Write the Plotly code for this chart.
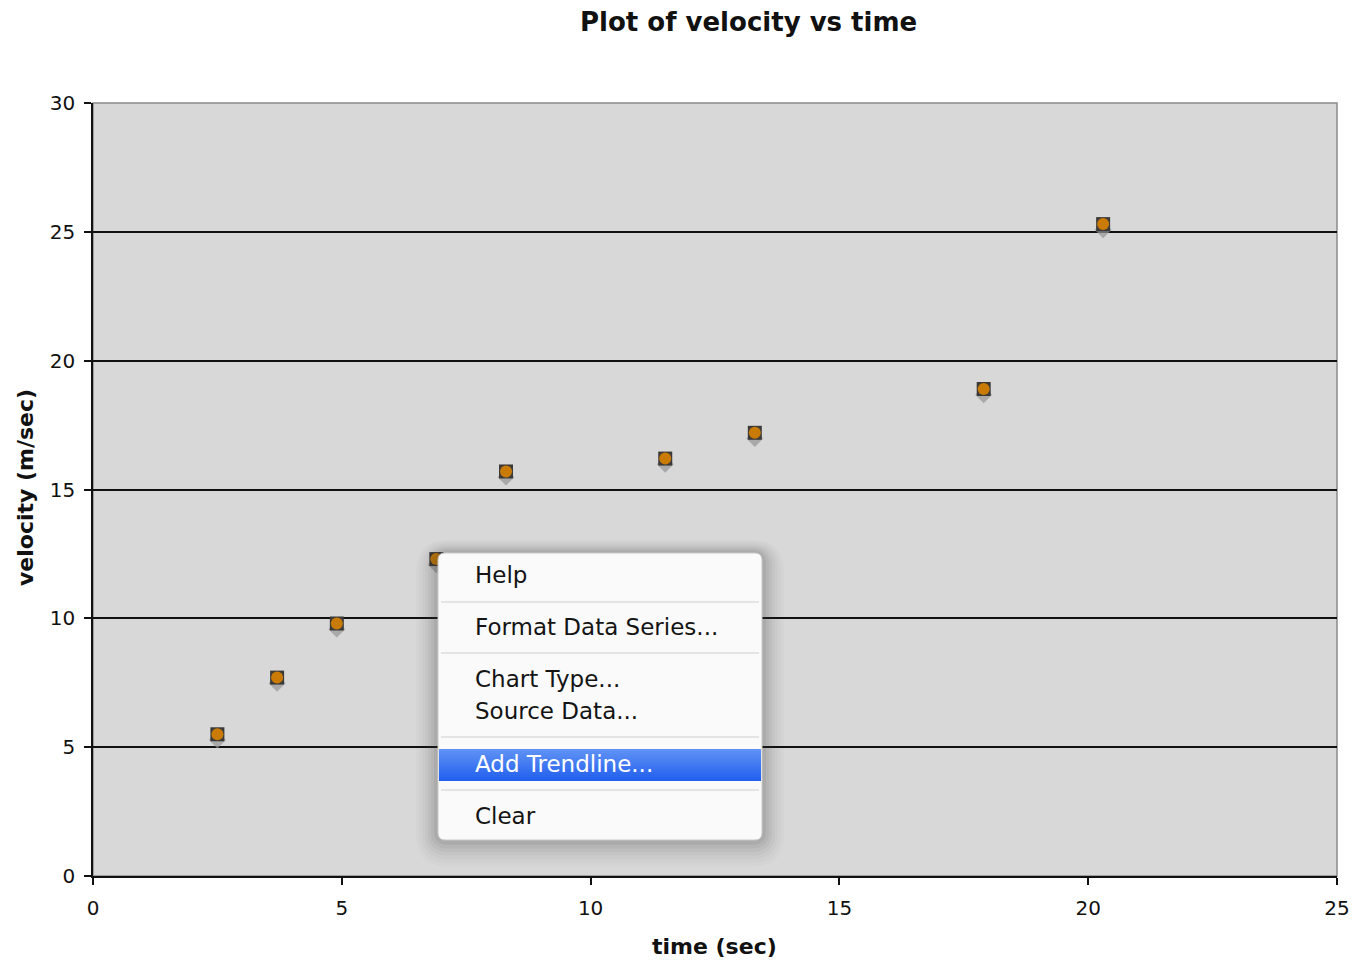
import plotly.graph_objects as go

# Measured data
time_sec = [2.5, 3.7, 4.9, 6.9, 8.3, 11.5, 13.3, 17.9, 20.3]
velocity = [5.5, 7.7, 9.8, 12.3, 15.7, 16.2, 17.2, 18.9, 25.3]

x_ticks = [0, 5, 10, 15, 20, 25]
y_ticks = [0, 5, 10, 15, 20, 25, 30]

menu_items = ["Help", "Format Data Series...", "Chart Type...", "Source Data...",
              "Add Trendline...", "Clear"]
menu_selected = "Add Trendline..."

W, H = 1355, 961
L, R, T, B = 93, 18, 103, 85
PW, PH = W - L - R, H - T - B


def px(x):
    return (x - L) / PW


def py(y):
    return (H - B - y) / PH


fig = go.Figure()

# soft drop shadow under each marker
shadow_y = [v - 0.22 for v in velocity]
fig.add_trace(go.Scatter(
    x=time_sec, y=shadow_y, mode="markers", hoverinfo="skip",
    marker=dict(symbol="diamond", size=13, color="rgba(150,150,150,0.7)", line=dict(width=0)),
))
fig.add_trace(go.Scatter(
    x=time_sec, y=velocity, mode="markers",
    marker=dict(symbol="square", size=14, color="#3c3a38", line=dict(width=0)),
))
fig.add_trace(go.Scatter(
    x=time_sec, y=velocity, mode="markers", hoverinfo="skip",
    marker=dict(symbol="circle", size=12, color="#c97b06", line=dict(width=0)),
))

shapes = []
# plot frame (top and right edges in grey)
shapes.append(dict(type="rect", xref="paper", yref="paper", x0=0, x1=1, y0=0, y1=1,
                   line=dict(color="#8a8a8a", width=1.5), layer="below"))


def rounded(x0, y0, x1, y1, r):
    # pixel coords -> rounded rectangle path in paper coords
    rx, ry = r / PW, r / PH
    a0, a1 = px(x0), px(x1)
    b0, b1 = py(y1), py(y0)  # bottom, top
    return (f"M {a0+rx},{b1} L {a1-rx},{b1} Q {a1},{b1} {a1},{b1-ry} "
            f"L {a1},{b0+ry} Q {a1},{b0} {a1-rx},{b0} L {a0+rx},{b0} "
            f"Q {a0},{b0} {a0},{b0+ry} L {a0},{b1-ry} Q {a0},{b1} {a0+rx},{b1} Z")


mx0, my0, mx1, my1 = 438, 553, 762, 840

# context menu shadow
for i, op in enumerate([0.02, 0.025, 0.03, 0.04, 0.05, 0.06, 0.08]):
    g = 22 - i * 3
    shapes.append(dict(type="path", xref="paper", yref="paper",
                       path=rounded(mx0 - g, my0 - g * 0.6, mx1 + g, my1 + g * 1.2, 10 + g),
                       fillcolor=f"rgba(60,60,60,{op})", line=dict(width=0)))
# menu body
shapes.append(dict(type="path", xref="paper", yref="paper",
                   path=rounded(mx0, my0, mx1, my1, 7),
                   fillcolor="#fafafa", line=dict(color="#c8c8c8", width=1)))

# separators
for sy in [602, 653, 737, 790]:
    shapes.append(dict(type="line", xref="paper", yref="paper",
                       x0=px(mx0 + 3), x1=px(mx1 - 3), y0=py(sy), y1=py(sy),
                       line=dict(color="#e4e4e4", width=2)))

# selected item highlight (vertical gradient)
hy0, hy1 = 749, 781
steps = 16
c_top = (96, 146, 246)
c_bot = (34, 96, 238)
for k in range(steps):
    t = k / (steps - 1)
    c = tuple(int(c_top[j] + (c_bot[j] - c_top[j]) * t) for j in range(3))
    ya = hy0 + (hy1 - hy0) * k / steps
    yb = hy0 + (hy1 - hy0) * (k + 1) / steps
    shapes.append(dict(type="rect", xref="paper", yref="paper",
                       x0=px(mx0 + 1), x1=px(mx1 - 1), y0=py(yb), y1=py(ya),
                       fillcolor=f"rgb{c}", line=dict(width=0)))

annotations = []
item_y = [575, 627, 679, 711, 764, 816]
for label, yy in zip(menu_items, item_y):
    annotations.append(dict(
        text=label, xref="paper", yref="paper", x=px(473), y=py(yy),
        xanchor="left", yanchor="middle", showarrow=False,
        font=dict(family="DejaVu Sans", size=23,
                  color="white" if label == menu_selected else "#141414"),
    ))

# chart title
annotations.append(dict(
    text="<b>Plot of velocity vs time</b>", xref="paper", yref="paper",
    x=px(748), y=py(22), xanchor="center", yanchor="middle", showarrow=False,
    font=dict(family="DejaVu Sans", size=26, color="#111"),
))
# axis titles
annotations.append(dict(
    text="<b>time (sec)</b>", xref="paper", yref="paper",
    x=px(714), y=py(946), xanchor="center", yanchor="middle", showarrow=False,
    font=dict(family="DejaVu Sans", size=22, color="#111"),
))
annotations.append(dict(
    text="<b>velocity (m/sec)</b>", xref="paper", yref="paper",
    x=px(25), y=py(488), xanchor="center", yanchor="middle", showarrow=False,
    textangle=-90,
    font=dict(family="DejaVu Sans", size=22, color="#111"),
))

fig.update_layout(
    width=W, height=H,
    margin=dict(l=L, r=R, t=T, b=B, autoexpand=False),
    paper_bgcolor="white",
    plot_bgcolor="#d8d8d8",
    showlegend=False,
    shapes=shapes,
    annotations=annotations,
    font=dict(family="DejaVu Sans", color="#111"),
)

fig.update_xaxes(
    range=[0, 25], tickvals=x_ticks, ticktext=[str(v) for v in x_ticks],
    showgrid=False, zeroline=False, automargin=False,
    showline=True, linecolor="#111", linewidth=1.5,
    ticks="outside", ticklen=7, tickcolor="#111", tickwidth=1.5,
    ticklabelstandoff=6,
    tickfont=dict(family="DejaVu Sans", size=20, color="#111"),
)
fig.update_yaxes(
    range=[0, 30], tickvals=y_ticks, ticktext=[str(v) for v in y_ticks],
    showgrid=True, gridcolor="#111", gridwidth=1.5, zeroline=False, automargin=False,
    showline=True, linecolor="#111", linewidth=1.5,
    ticks="outside", ticklen=7, tickcolor="#111", tickwidth=1.5,
    ticklabelstandoff=5,
    tickfont=dict(family="DejaVu Sans", size=20, color="#111"),
)

fig.write_html("out.html")
